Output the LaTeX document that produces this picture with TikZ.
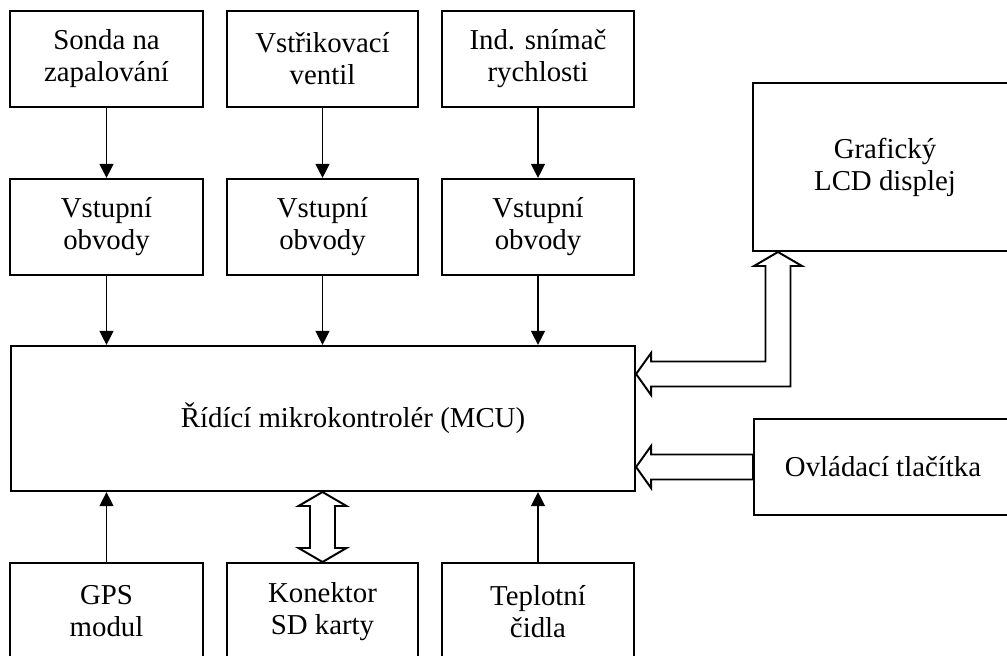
\documentclass[tikz,border=0pt]{standalone}
\usepackage{fontspec}
\setmainfont{Liberation Serif}
\usetikzlibrary{arrows.meta,calc}

\tikzset{
  blok/.style={draw, line width=1.4pt, inner sep=0pt, align=center,
    font=\fontsize{20.5}{22.8}\selectfont},
  sig/.style={line width=1.4pt, -{Triangle[length=0.35cm, width=0.34cm]}},
  sbernice/.style={draw, fill=white, line width=1.4pt, line join=miter}
}

\begin{document}
\begin{tikzpicture}[x=0.025cm, y=-0.025cm]
  \clip (0,0) rectangle (1007,656);

  % Snimace
  \node[blok, minimum width=4.825cm, minimum height=2.4cm] (sonda) at (106.5,59) {Sonda na\\zapalování};
  \node[blok, minimum width=4.775cm, minimum height=2.4cm] (ventil) at (322.5,59) {Vstřikovací\\ventil};
  \node[blok, minimum width=4.8cm, minimum height=2.4cm] (snimac) at (538,59) {Ind. snímač\\rychlosti};

  % Vstupni obvody
  \node[blok, minimum width=4.825cm, minimum height=2.4cm] (vst1) at (106.5,227) {Vstupní\\obvody};
  \node[blok, minimum width=4.775cm, minimum height=2.4cm] (vst2) at (322.5,227) {Vstupní\\obvody};
  \node[blok, minimum width=4.8cm, minimum height=2.4cm] (vst3) at (538,227) {Vstupní\\obvody};

  % MCU
  \node[blok, minimum width=15.6cm, minimum height=3.625cm] (mcu) at (323,418.5) {\hspace*{1.5cm}Řídící mikrokontrolér (MCU)};

  % Spodni rada
  \node[blok, minimum width=4.825cm, minimum height=2.425cm] (gps) at (106.5,611.5) {GPS\\modul};
  \node[blok, minimum width=4.775cm, minimum height=2.425cm] (sd) at (322.5,611.5) {Konektor\\SD karty};
  \node[blok, minimum width=4.8cm, minimum height=2.425cm] (tepl) at (538,611.5) {Teplotní\\čidla};

  % Displej a tlacitka
  \node[blok, minimum width=6.6cm, minimum height=4.2cm] (lcd) at (885,167) {Grafický\\LCD displej};
  \node[blok, minimum width=6.45cm, minimum height=2.4cm] (tlac) at (883,467) {Ovládací tlačítka};

  % Signaly
  \draw[sig] (sonda) -- (vst1);
  \draw[sig] (ventil) -- (vst2);
  \draw[sig] (snimac) -- (vst3);
  \draw[sig] (vst1) -- (vst1 |- mcu.north);
  \draw[sig] (vst2) -- (vst2 |- mcu.north);
  \draw[sig] (vst3) -- (vst3 |- mcu.north);
  \draw[sig] (gps) -- (gps |- mcu.south);
  \draw[sig] (tepl) -- (tepl |- mcu.south);

  % Sbernice k displeji
  \coordinate (t1) at ($(mcu.north east)+(0,29)$);
  \coordinate (t2) at ($(lcd.south west)+(26,0)$);
  \draw[sbernice] (t1) -- ++(15,-21) -- ++(0,8.5) -- ($(t1 -| t2)+(-12.5,-12.5)$)
    -- ($(t2)+(-12.5,14)$) -- ++(-11.5,0) -- (t2) -- ++(24,14) -- ++(-11.5,0)
    -- ($(t1 -| t2)+(12.5,12.5)$) -- ($(t1)+(15,12.5)$) -- ++(0,8.5) -- cycle;

  % Sbernice od tlacitek
  \coordinate (t3) at (mcu.east |- tlac.west);
  \draw[sbernice] (t3) -- ++(15,-21) -- ++(0,8.5) -- ($(tlac.west)+(0,-12.5)$)
    -- ($(tlac.west)+(0,12.5)$) -- ($(t3)+(15,12.5)$) -- ++(0,8.5) -- cycle;

  % Sbernice SD karty
  \coordinate (ta) at (sd.north |- mcu.south);
  \coordinate (tb) at (sd.north);
  \draw[sbernice] (ta) -- ++(24,14) -- ++(-11.5,0) -- ($(tb)+(12.5,-14)$) -- ++(11.5,0)
    -- (tb) -- ++(-24,-14) -- ++(11.5,0) -- ($(ta)+(-12.5,14)$) -- ++(-11.5,0) -- cycle;
\end{tikzpicture}
\end{document}
